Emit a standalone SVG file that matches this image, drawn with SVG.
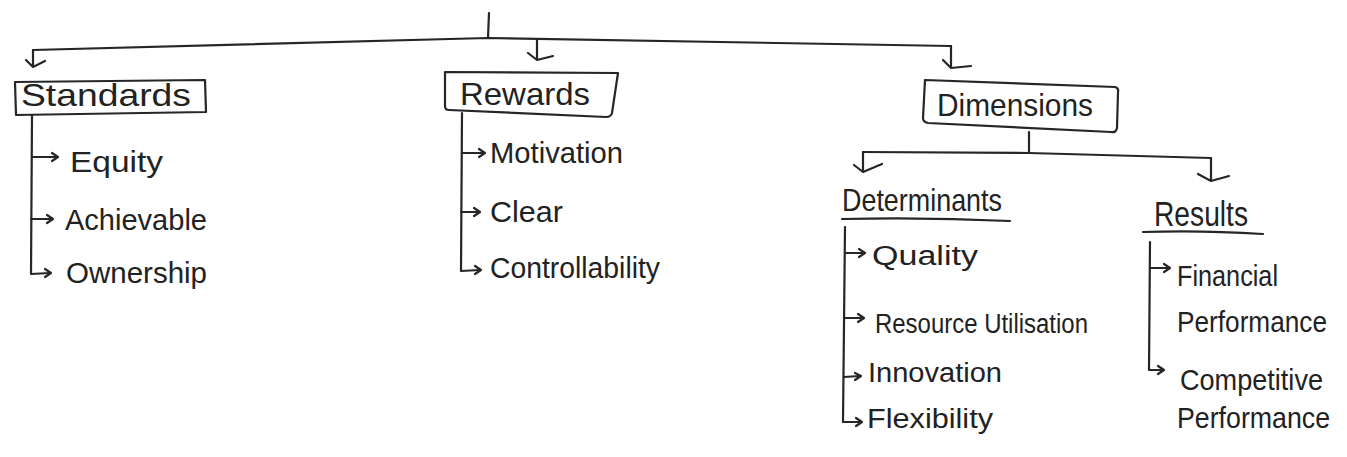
<svg xmlns="http://www.w3.org/2000/svg" width="1347" height="457" viewBox="0 0 1347 457">
  <defs>
    <style>
      .ln { fill: none; stroke: #262626; stroke-width: 2.2; stroke-linecap: round; stroke-linejoin: round; }
      .box { fill: none; stroke: #262626; stroke-width: 2.2; stroke-linejoin: round; }
      .hd { font-family: "Liberation Sans", "DejaVu Sans", sans-serif; font-size: 32px; fill: #222; }
      .it { font-family: "Liberation Sans", "DejaVu Sans", sans-serif; font-size: 29px; fill: #222; }
      .sm { font-size: 27px; }
      .lg { font-size: 30px; }
    </style>
  </defs>
  <rect width="1347" height="457" fill="#ffffff"/>

  <!-- connectors -->
  <g id="connectors">
    <!-- root stem and top bar -->
    <path class="ln" d="M489,13 L488,38"/>
    <path class="ln" d="M33,50 L488,38 L951,46"/>
    <!-- to Standards -->
    <path class="ln" d="M33,50 L33,67 M26,60 L33,67 L45,61"/>
    <!-- to Rewards -->
    <path class="ln" d="M537,40 L537,60 M528,53 L537,60 L553,56"/>
    <!-- to Dimensions -->
    <path class="ln" d="M951,46 L951,68 M943,60 L951,68 L971,66"/>

    <!-- Standards list -->
    <path class="ln" d="M32,115 L31,274 L50,273"/>
    <path class="ln" d="M32,157 L57,157 M52,153 L58,157 L52,161"/>
    <path class="ln" d="M31,219 L52,219 M47,215 L53,219 L47,223"/>
    <path class="ln" d="M45,269 L51,273 L45,277"/>

    <!-- Rewards list -->
    <path class="ln" d="M462,113 L461,271 L480,270"/>
    <path class="ln" d="M462,153 L484,153 M479,149 L485,153 L479,157"/>
    <path class="ln" d="M461,212 L479,212 M474,208 L480,212 L474,216"/>
    <path class="ln" d="M475,266 L481,270 L475,274"/>

    <!-- Dimensions split -->
    <path class="ln" d="M1029,132 L1029,153"/>
    <path class="ln" d="M863,152 L1029,153 L1211,158"/>
    <path class="ln" d="M863,152 L863,172 M854,165 L863,172 L882,164"/>
    <path class="ln" d="M1211,158 L1211,181 M1198,174 L1211,181 L1229,176"/>

    <!-- Determinants list -->
    <path class="ln" d="M842,219 Q925,217 1010,221"/>
    <path class="ln" d="M845,227 L843,422 L861,422"/>
    <path class="ln" d="M845,253 L864,253 M859,249 L865,253 L859,257"/>
    <path class="ln" d="M844,318 L863,318 M858,314 L864,318 L858,322"/>
    <path class="ln" d="M844,377 L860,376 M855,373 L861,376 L855,380"/>
    <path class="ln" d="M856,418 L862,422 L856,426"/>

    <!-- Results list -->
    <path class="ln" d="M1143,232 Q1200,230 1263,234"/>
    <path class="ln" d="M1150,242 L1149,370 L1162,370"/>
    <path class="ln" d="M1150,268 L1169,268 M1164,264 L1170,268 L1164,272"/>
    <path class="ln" d="M1158,366 L1164,370 L1158,374"/>
  </g>

  <!-- Standards -->
  <g id="standards">
    <path class="box" d="M15,82 L205,80 L206,112 L16,115 Z"/>
    <text class="hd" x="21" y="106" textLength="170" lengthAdjust="spacingAndGlyphs">Standards</text>
  </g>
  <g id="equity"><text class="it lg" x="70" y="172" textLength="93" lengthAdjust="spacingAndGlyphs">Equity</text></g>
  <g id="achievable"><text class="it lg" x="65" y="230" textLength="142" lengthAdjust="spacingAndGlyphs">Achievable</text></g>
  <g id="ownership"><text class="it lg" x="66" y="283" textLength="141" lengthAdjust="spacingAndGlyphs">Ownership</text></g>

  <!-- Rewards -->
  <g id="rewards">
    <path class="box" d="M445,72 L618,73 L612,113 Q611,117 606,117 L449,110 Q445,110 445,106 Z"/>
    <text class="hd" x="460" y="105" textLength="130" lengthAdjust="spacingAndGlyphs">Rewards</text>
  </g>
  <g id="motivation"><text class="it" x="490" y="163" textLength="133" lengthAdjust="spacingAndGlyphs">Motivation</text></g>
  <g id="clear"><text class="it" x="490" y="222" textLength="73" lengthAdjust="spacingAndGlyphs">Clear</text></g>
  <g id="controllability"><text class="it" x="490" y="278" textLength="170" lengthAdjust="spacingAndGlyphs">Controllability</text></g>

  <!-- Dimensions -->
  <g id="dimensions">
    <path class="box" d="M925,80 L1115,87 Q1119,88 1118,92 L1117,128 Q1116,133 1111,132 L928,123 Q923,122 923,118 Z"/>
    <text class="hd" x="937" y="116" textLength="156" lengthAdjust="spacingAndGlyphs">Dimensions</text>
  </g>

  <!-- Determinants -->
  <g id="determinants"><text class="hd" x="842" y="211" textLength="160" lengthAdjust="spacingAndGlyphs">Determinants</text></g>
  <g id="quality"><text class="it sm" x="872" y="265" textLength="106" lengthAdjust="spacingAndGlyphs">Quality</text></g>
  <g id="resource-utilisation"><text class="it sm" x="875" y="333" textLength="213" lengthAdjust="spacingAndGlyphs">Resource Utilisation</text></g>
  <g id="innovation"><text class="it sm" x="868" y="382" textLength="134" lengthAdjust="spacingAndGlyphs">Innovation</text></g>
  <g id="flexibility"><text class="it sm" x="867" y="428" textLength="126" lengthAdjust="spacingAndGlyphs">Flexibility</text></g>

  <!-- Results -->
  <g id="results"><text class="hd" x="1154" y="226" textLength="94" lengthAdjust="spacingAndGlyphs" style="font-size:35px">Results</text></g>
  <g id="financial-performance">
    <text class="it" x="1177" y="286" textLength="101" lengthAdjust="spacingAndGlyphs">Financial</text>
    <text class="it" x="1177" y="332" textLength="150" lengthAdjust="spacingAndGlyphs">Performance</text>
  </g>
  <g id="competitive-performance">
    <text class="it" x="1180" y="390" textLength="143" lengthAdjust="spacingAndGlyphs">Competitive</text>
    <text class="it" x="1177" y="428" textLength="153" lengthAdjust="spacingAndGlyphs">Performance</text>
  </g>
</svg>
